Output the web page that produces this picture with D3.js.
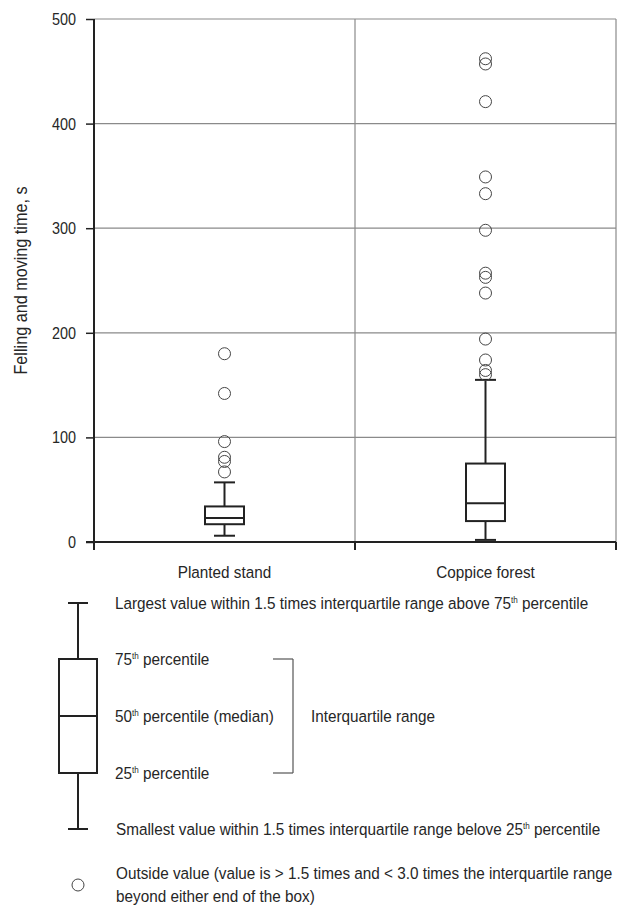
<!DOCTYPE html>
<html>
<head>
<meta charset="utf-8">
<script src="https://cdn.jsdelivr.net/npm/d3@7"></script>
<style>
  body { margin: 0; background: #fff; }
  text { font-family: "Liberation Sans", Arial, sans-serif; fill: #262626; }
</style>
</head>
<body>
<svg width="623" height="906"></svg>
<script>
// box plot data (seconds)
var categories = ["Planted stand", "Coppice forest"];
var whiskerLow = [6, 2];
var q1 = [17, 20];
var median = [23, 37];
var q3 = [34, 75];
var whiskerHigh = [57, 155];
var outliers = [
  [180, 142, 96, 81, 77, 67],
  [462, 457, 421, 349, 333, 298, 257, 253, 238, 194, 174, 164, 160]
];
var yTicks = [0, 100, 200, 300, 400, 500];

var svg = d3.select("svg"),
    plotL = 94, plotR = 616, plotT = 19, plotB = 542;

var x = d3.scaleBand().domain(categories).range([plotL, plotR]);
var y = d3.scaleLinear().domain([0, 500]).range([plotB, plotT]);

var squeeze = 0.9;

// text helper, narrow look, parts = [txt | [sup, rest]]
function label(px, py, parts, anchor, size, rot) {
  var t = svg.append("text")
      .attr("transform", "translate(" + px + "," + py + ")" + (rot ? " rotate(" + rot + ")" : "") + " scale(" + squeeze + ",1)")
      .attr("text-anchor", anchor || "start")
      .style("font-size", (size || 17) + "px");
  parts.forEach(function(p) {
    if (typeof p === "string") {
      t.append("tspan").attr("dy", 0).text(p);
    } else {
      t.append("tspan").attr("dy", -6).style("font-size", "9px").text(p[0]);
      t.append("tspan").attr("dy", 6).text(p[1]);
    }
  });
  return t;
}

// grid
svg.append("g").selectAll("line")
  .data(yTicks.slice(1))
  .enter().append("line")
    .attr("x1", plotL).attr("x2", plotR)
    .attr("y1", function(d) { return y(d); })
    .attr("y2", function(d) { return y(d); })
    .attr("stroke", "#8a8a8a").attr("stroke-width", 1.2);

svg.append("g").selectAll("line")
  .data([x(categories[1]), plotR])
  .enter().append("line")
    .attr("x1", function(d) { return d; }).attr("x2", function(d) { return d; })
    .attr("y1", plotT).attr("y2", plotB)
    .attr("stroke", "#8a8a8a").attr("stroke-width", 1.2);

// y axis
var yAxis = svg.append("g")
    .attr("transform", "translate(" + plotL + ",0)")
    .call(d3.axisLeft(y).tickValues(yTicks).tickSize(8).tickFormat(""));
yAxis.select(".domain").attr("d", "M0," + plotT + "V" + (plotB + 8)).attr("stroke", "#222").attr("stroke-width", 2);
yAxis.selectAll(".tick line").attr("stroke", "#222").attr("stroke-width", 1.5);
yTicks.forEach(function(v) {
  label(76, y(v) + 6, [String(v)], "end", 16);
});

// x axis
var xAxis = svg.append("g")
    .attr("transform", "translate(0," + plotB + ")");
xAxis.append("line")
    .attr("x1", plotL - 8).attr("x2", plotR)
    .attr("stroke", "#222").attr("stroke-width", 2);
xAxis.selectAll("line.xt")
  .data([plotL, x(categories[1]), plotR])
  .enter().append("line").attr("class", "xt")
    .attr("x1", function(d) { return d; }).attr("x2", function(d) { return d; })
    .attr("y1", 0).attr("y2", 8)
    .attr("stroke", "#222").attr("stroke-width", 2);
categories.forEach(function(c) {
  label(x(c) + x.bandwidth() / 2, 578, [c], "middle", 17);
});

label(27, (plotT + plotB) / 2, ["Felling and moving time, s"], "middle", 18, -90);

// boxes
var boxW = 39, capW = 21;
var boxes = svg.append("g").selectAll("g")
  .data(categories)
  .enter().append("g")
    .attr("transform", function(d) { return "translate(" + (x(d) + x.bandwidth() / 2) + ",0)"; });

boxes.each(function(d, i) {
  var g = d3.select(this);
  g.append("line").attr("x1", 0).attr("x2", 0)
      .attr("y1", y(whiskerHigh[i])).attr("y2", y(q3[i]))
      .attr("stroke", "#222").attr("stroke-width", 2);
  g.append("line").attr("x1", 0).attr("x2", 0)
      .attr("y1", y(q1[i])).attr("y2", y(whiskerLow[i]))
      .attr("stroke", "#222").attr("stroke-width", 2);
  [whiskerHigh[i], whiskerLow[i]].forEach(function(v) {
    g.append("line").attr("x1", -capW / 2).attr("x2", capW / 2)
        .attr("y1", y(v)).attr("y2", y(v))
        .attr("stroke", "#222").attr("stroke-width", 2);
  });
  g.append("rect")
      .attr("x", -boxW / 2).attr("width", boxW)
      .attr("y", y(q3[i])).attr("height", y(q1[i]) - y(q3[i]))
      .attr("fill", "none").attr("stroke", "#222").attr("stroke-width", 2);
  g.append("line").attr("x1", -boxW / 2).attr("x2", boxW / 2)
      .attr("y1", y(median[i])).attr("y2", y(median[i]))
      .attr("stroke", "#222").attr("stroke-width", 2);
  g.selectAll("circle")
    .data(outliers[i])
    .enter().append("circle")
      .attr("cx", 0).attr("cy", function(v) { return y(v); })
      .attr("r", 6)
      .attr("fill", "none").attr("stroke", "#444").attr("stroke-width", 1);
});

// legend
var lg = svg.append("g");
var lx = 78;
function seg(x1, y1, x2, y2, w, c) {
  lg.append("line").attr("x1", x1).attr("y1", y1).attr("x2", x2).attr("y2", y2)
    .attr("stroke", c || "#222").attr("stroke-width", w || 2);
}
seg(lx, 603, lx, 659);
seg(lx, 773, lx, 829);
seg(lx - 10, 603, lx + 10, 603);
seg(lx - 10, 829, lx + 10, 829);
lg.append("rect").attr("x", lx - 19).attr("y", 659).attr("width", 38).attr("height", 114)
  .attr("fill", "none").attr("stroke", "#222").attr("stroke-width", 2);
seg(lx - 19, 716, lx + 19, 716);
seg(273, 659, 293, 659, 1.2, "#555");
seg(273, 773, 293, 773, 1.2, "#555");
seg(293, 659, 293, 773, 1.2, "#555");
lg.append("circle").attr("cx", lx).attr("cy", 885).attr("r", 6)
  .attr("fill", "none").attr("stroke", "#444").attr("stroke-width", 1);

label(115, 609, ["Largest value within 1.5 times interquartile range above 75", ["th", " percentile"]]);
label(115, 665, ["75", ["th", " percentile"]]);
label(115, 722, ["50", ["th", " percentile (median)"]]);
label(115, 779, ["25", ["th", " percentile"]]);
label(311, 722, ["Interquartile range"]);
label(116, 835, ["Smallest value within 1.5 times interquartile range belove 25", ["th", " percentile"]]);
label(116, 879, ["Outside value (value is > 1.5 times and < 3.0 times the interquartile range"]);
label(116, 902, ["beyond either end of the box)"]);
</script>
</body>
</html>
